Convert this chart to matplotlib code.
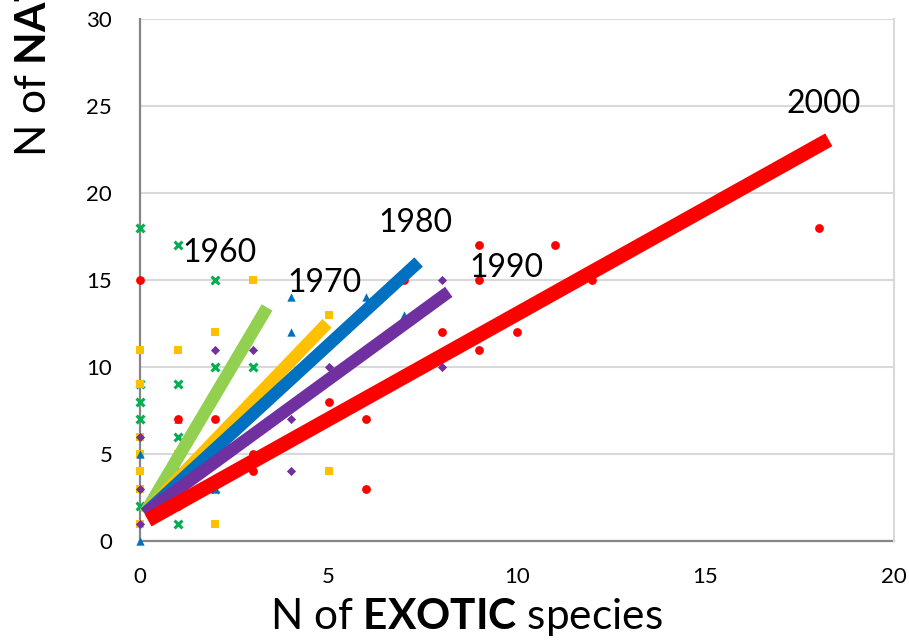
import numpy as np
import matplotlib.pyplot as plt

plt.rcParams['font.family'] = ['Lato', 'DejaVu Sans']
plt.rcParams['mathtext.fontset'] = 'custom'
plt.rcParams['mathtext.rm'] = 'Lato'
plt.rcParams['mathtext.bf'] = 'Lato:bold'

# exotic (x) vs native (y) species counts, one set per decade
x_1960 = [0, 1, 2, 2, 3, 0, 1, 0, 0, 1, 2, 0, 1]
y_1960 = [18, 17, 15, 10, 10, 9, 9, 8, 7, 6, 3, 2, 1]

x_1970 = [3, 2, 0, 1, 0, 0, 0, 1, 0, 0, 0, 2, 5, 5]
y_1970 = [15, 12, 11, 11, 9, 6, 5, 5, 4, 3, 1, 1, 13, 4]

x_1980 = [4, 6, 4, 7, 0, 2, 0, 2, 1, 1]
y_1980 = [14, 14, 12, 13, 5, 3, 0, 6, 7, 4]

x_1990 = [2, 3, 8, 5, 8, 4, 4, 0, 0, 0]
y_1990 = [11, 11, 15, 10, 10, 7, 4, 6, 3, 1]

x_2000 = [0, 1, 2, 3, 3, 1, 5, 6, 6, 7, 8, 9, 9, 9, 10, 11, 12, 18]
y_2000 = [15, 7, 7, 5, 4, 2, 8, 7, 3, 15, 12, 17, 15, 11, 12, 17, 15, 18]

decades = ['1960', '1970', '1980', '1990', '2000']

# linear trend per decade: slope, intercept, x range
trend_slope = [3.65, 2.26, 1.99, 1.58, 1.21]
trend_icpt = [1.12, 1.30, 1.33, 1.38, 0.95]
trend_x0 = [0.13, 0.13, 0.13, 0.13, 0.21]
trend_x1 = [3.37, 4.96, 7.39, 8.19, 18.27]

# label anchor (data coords) for each trend
label_x = [2.10, 4.90, 7.30, 9.72, 18.14]
label_y = [16.03, 14.31, 17.76, 15.17, 24.60]

line_colors = ['#92D050', '#FFC000', '#0070C0', '#7030A0', '#FF0000']
mark_colors = ['#00B050', '#FFC000', '#0070C0', '#7030A0', '#FF0000']
markers = ['x', 's', '^', 'D', 'o']
msizes = [32, 30, 36, 22, 40]
line_w = [9, 9, 9, 9, 10.5]

xs = [x_1960, x_1970, x_1980, x_1990, x_2000]
ys = [y_1960, y_1970, y_1980, y_1990, y_2000]

fig = plt.figure(figsize=(9.09, 6.41), dpi=100)
ax = fig.add_axes([140 / 909, 1 - 541 / 641, 754 / 909, 522 / 641])

for i in range(5):
    if markers[i] == 'x':
        ax.scatter(xs[i], ys[i], marker='x', s=msizes[i], color=mark_colors[i],
                   linewidths=2.2, zorder=3, clip_on=False)
    else:
        ax.scatter(xs[i], ys[i], marker=markers[i], s=msizes[i], color=mark_colors[i],
                   linewidths=0, zorder=3, clip_on=False)

for i in range(5):
    tx = np.array([trend_x0[i], trend_x1[i]])
    ax.plot(tx, trend_slope[i] * tx + trend_icpt[i], color=line_colors[i],
            lw=line_w[i], solid_capstyle='butt', zorder=4 + i)
    ax.text(label_x[i], label_y[i], decades[i], ha='center', va='baseline',
            fontsize=23, color='black', zorder=10)

ax.set_xlim(0, 20)
ax.set_ylim(0, 30)
ax.set_xticks(range(0, 21, 5))
ax.set_yticks(range(0, 31, 5))
ax.tick_params(length=0, labelsize=16, colors='black')
ax.tick_params(axis='y', pad=20)
ax.tick_params(axis='x', pad=19)
ax.grid(axis='y', color='#D9D9D9', lw=1.5, zorder=0)
ax.set_axisbelow(True)
for s in ['left', 'bottom']:
    ax.spines[s].set_color('#868686')
    ax.spines[s].set_linewidth(1.6)
    ax.spines[s].set_zorder(2)
ax.spines['right'].set_color('#D9D9D9')
ax.spines['right'].set_linewidth(1.5)
ax.spines['top'].set_visible(False)

fig.text(466 / 909, 3 / 641, r'N of $\bf{EXOTIC}$ species', ha='center', va='bottom',
         fontsize=30.5)
fig.text(13 / 909, 1 - 157 / 641, r'N of $\bf{NATIVE}$ species', ha='left', va='bottom',
         rotation=90, fontsize=30.5)

fig.savefig('out.png', dpi=100)
